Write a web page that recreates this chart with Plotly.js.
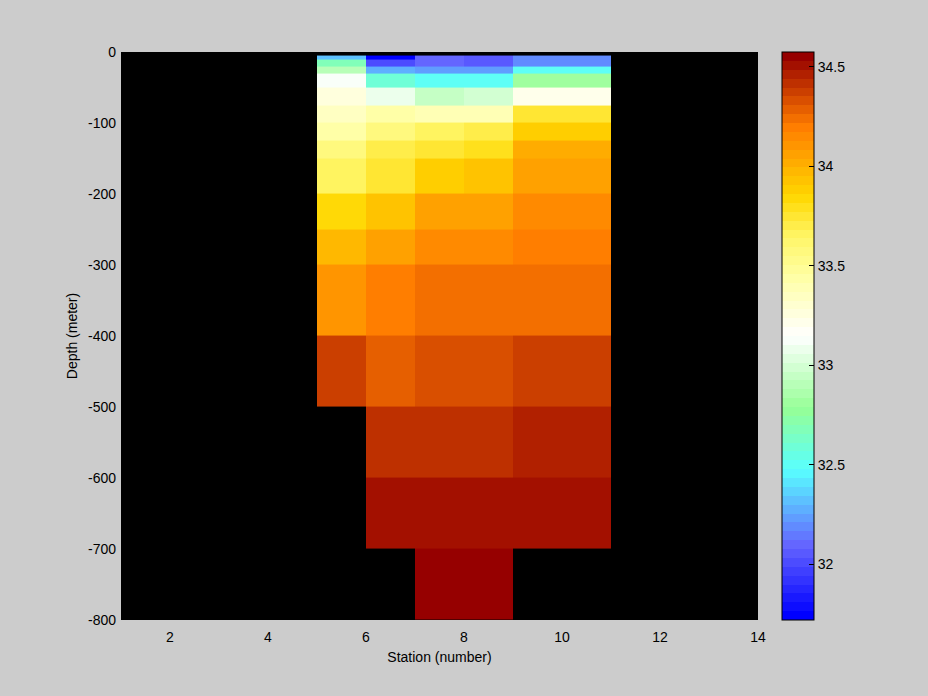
<!DOCTYPE html>
<html><head><meta charset="utf-8">
<script src="https://cdn.plot.ly/plotly-3.0.1.min.js"></script>
<style>html,body{margin:0;padding:0;background:#cccccc;}</style>
</head><body><div id="chart" style="width:928px;height:696px;"></div>
<script>
// Station cell edges (x) and depth cell edges (y, metres)
const stationEdges = [5, 6, 7, 8, 9, 11];
const depthEdges = [-5, -10, -20, -30, -50, -75, -100, -125, -150, -200, -250, -300, -400, -500, -600, -700, -800];
// Salinity per depth layer (top to bottom), one value per station column
const salinity = [
  [32.32, 31.74, 32.10, 32.05, 32.19],
  [32.68, 32.01, 32.10, 32.05, 32.19],
  [32.90, 32.28, 32.23, 32.23, 32.50],
  [33.12, 32.59, 32.50, 32.50, 32.81],
  [33.26, 33.08, 32.95, 32.99, 33.21],
  [33.35, 33.44, 33.39, 33.39, 33.75],
  [33.44, 33.57, 33.66, 33.70, 33.88],
  [33.57, 33.70, 33.75, 33.79, 34.02],
  [33.66, 33.75, 33.88, 33.93, 34.06],
  [33.84, 33.93, 34.06, 34.06, 34.15],
  [33.97, 34.06, 34.15, 34.15, 34.20],
  [34.11, 34.20, 34.24, 34.24, 34.24],
  [34.37, 34.29, 34.33, 34.33, 34.37],
  [null,  34.42, 34.42, 34.42, 34.46],
  [null,  34.51, 34.51, 34.51, 34.51],
  [null,  null,  34.55, 34.55, null]
];
const cMin = 31.72, cMax = 34.575;
const xTickVals = [2, 4, 6, 8, 10, 12, 14];
const yTickVals = [0, -100, -200, -300, -400, -500, -600, -700, -800];
const yTickLabels = ['0', '-100', '-200', '-300', '-400', '-500', '-600', '-700', '-800'];
const cbTickVals = [32, 32.5, 33, 33.5, 34, 34.5];
const cbTickLabels = ['32', '32.5', '33', '33.5', '34', '34.5'];

// colormap anchors (style)
const anchors = [
  [0.0, [0, 0, 255]],
  [0.125, [100, 100, 255]],
  [0.26, [88, 255, 255]],
  [0.37, [150, 255, 150]],
  [0.5, [255, 255, 255]],
  [0.6, [255, 255, 170]],
  [0.68, [255, 245, 100]],
  [0.75, [255, 215, 0]],
  [0.875, [255, 125, 0]],
  [1.0, [150, 0, 0]]
];
function interp(t) {
  for (let i = 0; i < anchors.length - 1; i++) {
    const [t0, c0] = anchors[i], [t1, c1] = anchors[i + 1];
    if (t <= t1) {
      const f = (t - t0) / (t1 - t0);
      return 'rgb(' + c0.map((v, k) => Math.round(v + f * (c1[k] - v))).join(',') + ')';
    }
  }
  return 'rgb(150,0,0)';
}
const N = 64;
const colorscale = [];
for (let i = 0; i < N; i++) {
  const c = interp(i / (N - 1));
  colorscale.push([i / N, c]);
  colorscale.push([(i + 1) / N, c]);
}

const font = {family: 'Liberation Sans, Arial, sans-serif', size: 14, color: '#000'};
const W = 928, H = 696, L = 121, R = 758, T = 52, B = 620;
const plotW = R - L;
const cbX = (782 - L) / plotW;
const cbTick = 5 / plotW;

const shapes = cbTickVals.map(v => {
  const y = (v - cMin) / (cMax - cMin);
  return {type: 'line', xref: 'paper', yref: 'paper', x0: cbX, x1: cbX + cbTick, y0: y, y1: y,
          line: {color: '#000', width: 1}};
});

const trace = {
  type: 'heatmap',
  x: stationEdges,
  y: depthEdges,
  z: salinity,
  zmin: cMin, zmax: cMax,
  colorscale: colorscale,
  hoverongaps: false,
  colorbar: {
    x: cbX, xanchor: 'left', xpad: 0,
    y: 0.5, yanchor: 'middle', len: 1, lenmode: 'fraction', ypad: 0,
    thickness: 32, thicknessmode: 'pixels',
    outlinewidth: 1, outlinecolor: '#000',
    tickvals: cbTickVals, ticktext: cbTickLabels,
    ticks: 'inside', ticklen: 5, tickcolor: '#000',
    tickfont: font
  }
};

const layout = {
  width: W, height: H,
  margin: {l: L, r: W - R, t: T, b: H - B, pad: 0},
  paper_bgcolor: '#cccccc',
  plot_bgcolor: '#000000',
  font: font,
  showlegend: false,
  xaxis: {
    range: [1, 14], autorange: false, tickvals: xTickVals,
    ticks: '', showgrid: false, zeroline: false, showline: false,
    tickfont: font, ticklabelstandoff: 7,
    title: {text: 'Station (number)', font: font, standoff: 8}
  },
  yaxis: {
    range: [-800, 0], autorange: false, tickvals: yTickVals, ticktext: yTickLabels,
    ticks: '', showgrid: false, zeroline: false, showline: false,
    tickfont: font, ticklabelstandoff: 4,
    title: {text: 'Depth (meter)', font: font, standoff: 7}
  },
  shapes: shapes
};

Plotly.newPlot('chart', [trace], layout, {displayModeBar: false, staticPlot: true});
</script>
</body></html>
